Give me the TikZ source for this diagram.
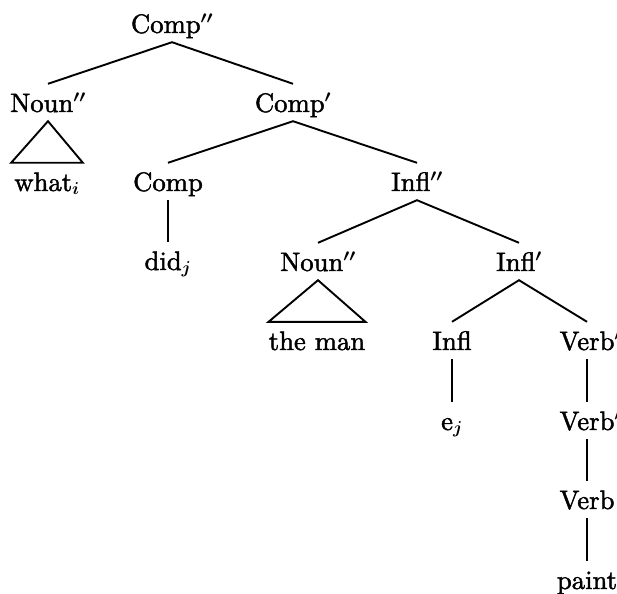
\documentclass[tikz,border=0pt]{standalone}
\usepackage{fontspec}
\setmainfont{lmroman10-regular}[Extension=.otf, FakeBold=1.6]
\begin{document}
\begin{tikzpicture}[x=1pt,y=-1pt,
  lab/.style={inner xsep=0pt,inner ysep=0pt,text height=28pt,text depth=9pt,anchor=base,
              font=\fontsize{26.7}{32}\selectfont\mathversion{bold}},
  branch/.style={line width=1.9pt},
  roof/.style={line width=1.9pt,line join=miter}]
\useasboundingbox (0,0) rectangle (617,593);

% tree labels, placed on their baselines
\node[lab] (c2)    at (172,33)  {Comp$''$};
\node[lab] (n2a)   at (48,112)  {Noun$''$};
\node[lab] (what)  at (47,191)  {what$_i$};
\node[lab] (c1)    at (293,112) {Comp$'$};
\node[lab] (comp)  at (168,191) {Comp};
\node[lab] (did)   at (168,270) {did$_j$};
\node[lab] (i2)    at (417,191) {Infl$''$};
\node[lab] (n2b)   at (318,271) {Noun$''$};
\node[lab] (theman) at (317,350) {the man};
\node[lab] (i1)    at (519,271) {Infl$'$};
\node[lab] (infl)  at (452,350) {Infl};
\node[lab] (ej)    at (452,430) {e$_j$};
\node[lab] (v2)    at (587,350) {Verb\rlap{$''$}};
\node[lab] (v1)    at (587,430) {Verb\rlap{$'$}};
\node[lab] (verb)  at (587,509) {Verb};
\node[lab] (paint) at (587,589) {paint};

% branches
\draw[branch] (n2a.north) -- (c2.south) -- (c1.north);
\draw[branch] (comp.north) -- (c1.south) -- (i2.north);
\draw[branch] (comp.south) -- (did.north);
\draw[branch] (n2b.north) -- (i2.south) -- (i1.north);
\draw[branch] (infl.north) -- (i1.south) -- (v2.north);
\draw[branch] (infl.south) -- (ej.north);
\draw[branch] (v2.south) -- (v1.north);
\draw[branch] (v1.south) -- (verb.north);
\draw[branch] (verb.south) -- (paint.north);

% roofs over unanalysed phrases
\draw[roof] (n2a.south) -- ([xshift=3pt]what.north east) -- ([xshift=-3pt]what.north west) -- cycle;
\draw[roof] (n2b.south) -- (theman.north east) -- (theman.north west) -- cycle;
\end{tikzpicture}
\end{document}
